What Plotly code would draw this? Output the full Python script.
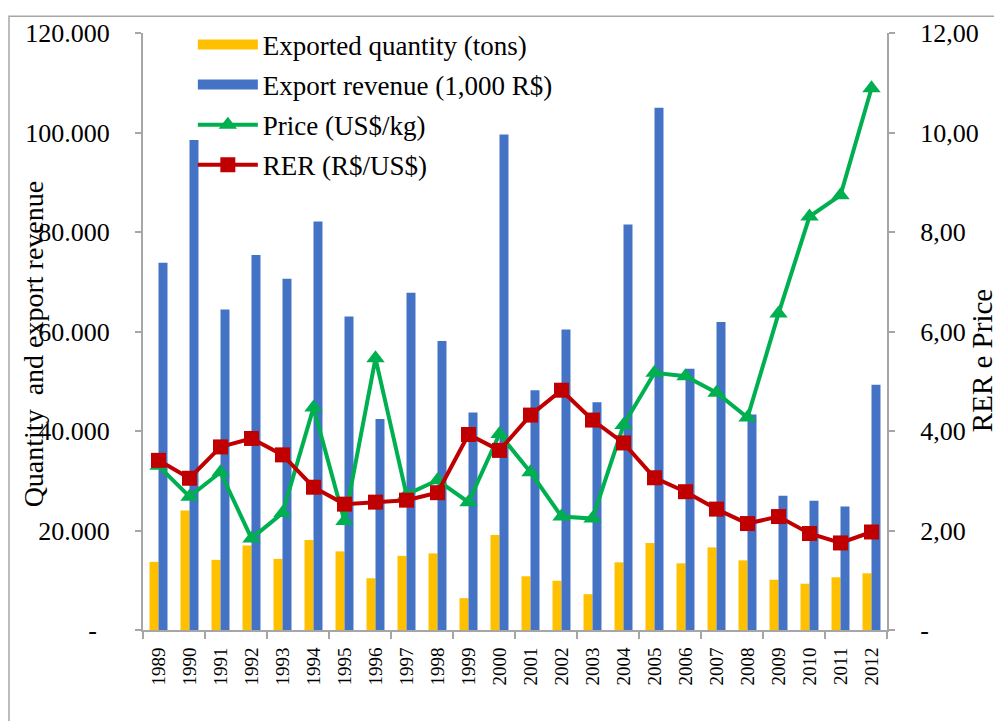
import plotly.graph_objects as go

years = [str(y) for y in range(1989, 2013)]
quantity = [13700, 24000, 14100, 17000, 14300, 18100, 15800, 10400, 14900, 15400,
            6400, 19100, 10800, 9900, 7200, 13600, 17500, 13400, 16600, 14000,
            10100, 9300, 10600, 11400]
revenue = [73800, 98500, 64400, 75400, 70600, 82100, 63000, 42400, 67800, 58100,
           43700, 99600, 48200, 60400, 45800, 81500, 105000, 52500, 61900, 43300,
           27000, 26000, 24800, 49300]
price = [3.30, 2.68, 3.17, 1.84, 2.35, 4.47, 2.19, 5.46, 2.72, 3.01,
         2.57, 3.94, 3.17, 2.28, 2.24, 4.12, 5.17, 5.10, 4.77, 4.27,
         6.36, 8.31, 8.74, 10.89]
rer = [3.41, 3.05, 3.68, 3.85, 3.52, 2.87, 2.53, 2.57, 2.61, 2.76,
       3.93, 3.61, 4.32, 4.82, 4.22, 3.76, 3.06, 2.78, 2.43, 2.14,
       2.28, 1.94, 1.75, 1.97]

left_vals = [0, 20000, 40000, 60000, 80000, 100000, 120000]
left_text = ["-\u00a0\u00a0", "20.000", "40.000", "60.000", "80.000", "100.000", "120.000"]
right_vals = [0, 2, 4, 6, 8, 10, 12]
right_text = ["-", "2,00", "4,00", "6,00", "8,00", "10,00", "12,00"]

x = list(range(len(years)))
FONT = "Liberation Serif, Times New Roman, serif"
GREY = "#A6A6A6"
YELLOW, BLUE, GREEN, RED = "#FFC000", "#4472C4", "#00B050", "#C00000"

fig = go.Figure()
fig.add_trace(go.Bar(x=x, y=quantity, name="Exported quantity (tons)",
                     marker=dict(color=YELLOW, line=dict(width=0)),
                     showlegend=False, yaxis="y"))
fig.add_trace(go.Bar(x=x, y=revenue, name="Export revenue (1,000 R$)",
                     marker=dict(color=BLUE, line=dict(width=0)),
                     showlegend=False, yaxis="y"))
# legend-only entries giving wide rectangular swatches for the bar series
fig.add_trace(go.Scatter(x=[None], y=[None], mode="lines", name="Exported quantity (tons)",
                         line=dict(color=YELLOW, width=13), legendgroup="a", yaxis="y"))
fig.add_trace(go.Scatter(x=[None], y=[None], mode="lines", name="Export revenue (1,000 R$)",
                         line=dict(color=BLUE, width=13), legendgroup="b", yaxis="y"))
fig.add_trace(go.Scatter(x=x, y=price, name="Price (US$/kg)", mode="lines+markers",
                         line=dict(color=GREEN, width=4),
                         marker=dict(symbol="triangle-up", size=16, color=GREEN),
                         legendgroup="c", yaxis="y2"))
fig.add_trace(go.Scatter(x=x, y=rer, name="RER (R$/US$)", mode="lines+markers",
                         line=dict(color=RED, width=4),
                         marker=dict(symbol="square", size=15, color=RED),
                         legendgroup="d", yaxis="y2"))

fig.update_layout(
    width=994, height=713,
    margin=dict(l=135, r=115, t=18, b=91),
    paper_bgcolor="white", plot_bgcolor="white",
    font=dict(family=FONT, color="black", size=26),
    barmode="group", bargap=0.42, bargroupgap=0,
    showlegend=True,
    legend=dict(x=0.067, y=1.021, xanchor="left", yanchor="top",
                bgcolor="rgba(0,0,0,0)", font=dict(size=27, family=FONT),
                tracegroupgap=2, itemwidth=60),
    xaxis=dict(range=[-0.5, 23.5], tickmode="array", tickvals=x, ticktext=years,
               tickangle=-90, ticks="", showgrid=False, zeroline=False,
               showline=True, linecolor=GREY, linewidth=2,
               tickfont=dict(size=19, family=FONT), ticklabelstandoff=8,
               minor=dict(tickmode="array",
                          tickvals=[v - 0.5 for v in x[::2]] + [x[-1] + 0.5],
                          ticks="outside", ticklen=7, tickcolor=GREY, tickwidth=2)),
    yaxis=dict(range=[0, 120000], tickmode="array", tickvals=left_vals, ticktext=left_text,
               ticks="outside", ticklen=6, tickcolor=GREY, tickwidth=2,
               showline=True, linecolor=GREY, linewidth=2, showgrid=False, zeroline=False,
               tickfont=dict(size=26, family=FONT), ticklabelstandoff=20),
    yaxis2=dict(range=[0, 12], tickmode="array", tickvals=right_vals, ticktext=right_text,
                overlaying="y", side="right",
                ticks="outside", ticklen=6, tickcolor=GREY, tickwidth=2,
                showline=True, linecolor=GREY, linewidth=2, showgrid=False, zeroline=False,
                tickfont=dict(size=26, family=FONT), ticklabelstandoff=20),
    annotations=[
        dict(text="Quantity  and export revenue", xref="paper", yref="paper",
             x=(33 - 143) / 744, y=(630 - 341) / 604, textangle=-90, showarrow=False,
             font=dict(size=28, family=FONT), xanchor="center", yanchor="middle"),
        dict(text="RER e Price", xref="paper", yref="paper",
             x=(982 - 143) / 744, y=(630 - 358) / 604, textangle=-90, showarrow=False,
             font=dict(size=29, family=FONT), xanchor="center", yanchor="middle"),
    ],
    shapes=[dict(type="rect", xref="paper", yref="paper",
                 x0=(9 - 143) / 744, x1=(1020 - 143) / 744,
                 y0=(630 - 740) / 604, y1=(630 - 9) / 604,
                 line=dict(color=GREY, width=1.5), fillcolor="rgba(0,0,0,0)", layer="below")],
)

fig.write_html("out.html")
